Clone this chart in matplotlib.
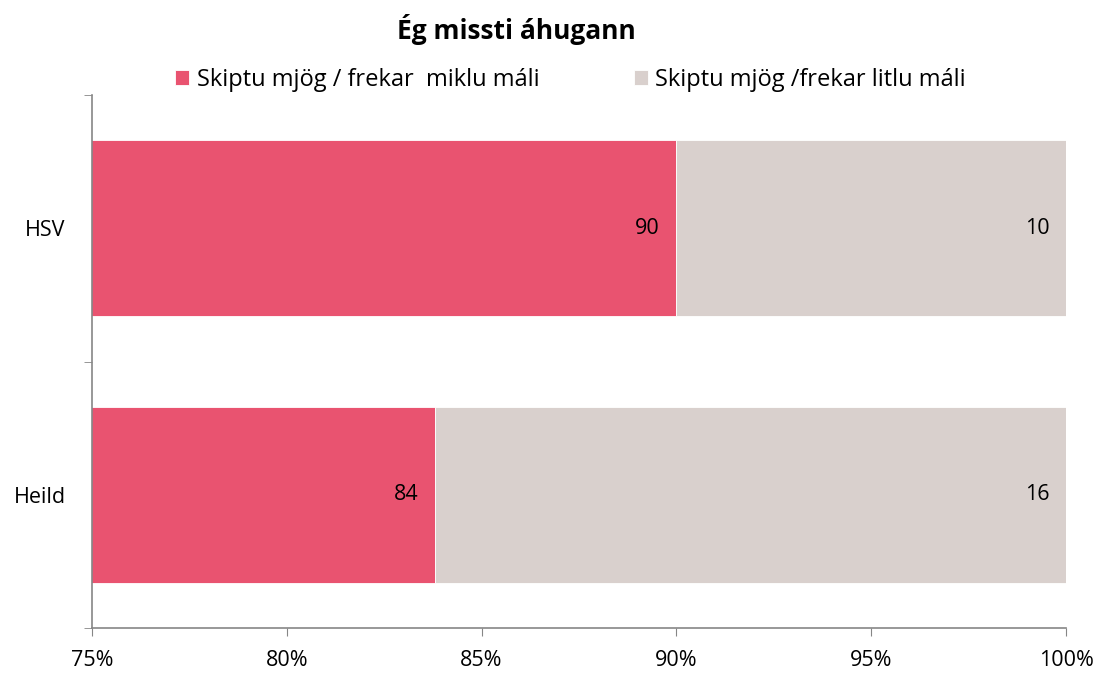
import matplotlib.pyplot as plt
import numpy as np

plt.rcParams['font.family'] = ['Open Sans', 'DejaVu Sans']

title = "Ég missti áhugann"
categories = ["HSV", "Heild"]
series_names = ["Skiptu mjög / frekar  miklu máli", "Skiptu mjög /frekar litlu máli"]
much = [90.0, 83.8]
little = [10.0, 16.2]
colors = ["#E95370", "#D9D0CD"]

fig = plt.figure(figsize=(10.99, 6.74), dpi=100)
ax = fig.add_axes([0.0837, 0.0682, 0.8863, 0.7908])

y = np.arange(len(categories))
h = 0.66
b1 = ax.barh(y, much, height=h, color=colors[0], label=series_names[0], edgecolor="white", linewidth=0.6)
b2 = ax.barh(y, little, left=much, height=h, color=colors[1], label=series_names[1], edgecolor="white", linewidth=0.6)

# value labels inside the right end of each segment
for bars, vals, lefts in [(b1, much, [0, 0]), (b2, little, much)]:
    for yi, v, l in zip(y, vals, lefts):
        ax.annotate(f"{v:.0f}", xy=(l + v, yi), xytext=(-12, 0), textcoords="offset points",
                    ha="right", va="center", fontsize=15.5, color="black")

ax.set_xlim(75, 100)
ax.set_xticks(np.arange(75, 101, 5))
ax.set_xticklabels([f"{t}%" for t in range(75, 101, 5)], fontsize=15.5)
ax.set_ylim(len(categories) - 0.5, -0.5)
ax.set_yticks(y)
ax.set_yticklabels(categories, fontsize=15.5)
ax.set_yticks([-0.5, 0.5, 1.5], minor=True)
ax.tick_params(axis="y", which="major", length=0, pad=19)
ax.tick_params(axis="y", which="minor", length=6, color="#868686", direction="out")
ax.tick_params(axis="x", length=6, color="#868686", pad=10)

for s in ["top", "right"]:
    ax.spines[s].set_visible(False)
for s in ["left", "bottom"]:
    ax.spines[s].set_color("#868686")
    ax.spines[s].set_linewidth(1.2)

fig.text(0.4695, 0.956, title, ha="center", va="center", fontsize=19, fontweight="bold")
fig.legend(loc="center", bbox_to_anchor=(0.519, 0.882), ncol=2, frameon=False, fontsize=17,
           handlelength=0.6, handleheight=0.6, handletextpad=0.3, columnspacing=4.0)

fig.savefig("out.png", dpi=100)
